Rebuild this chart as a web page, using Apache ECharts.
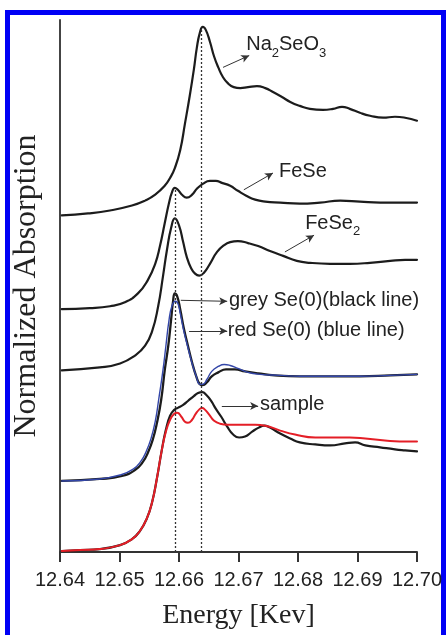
<!DOCTYPE html>
<html><head><meta charset="utf-8">
<script src="https://cdn.jsdelivr.net/npm/echarts@6/dist/echarts.min.js"></script>
<style>html,body{margin:0;padding:0;background:#fff;}#c{width:446px;height:635px;}</style>
</head><body><div id="c"></div>
<script>
// ---- data (energy in keV, normalized absorption with vertical offsets, arbitrary units) ----
const xTickValues = [12.64, 12.65, 12.66, 12.67, 12.68, 12.69, 12.70];

const na2seo3 = [[12.6403,341],[12.6447,343],[12.6484,346],[12.6521,351],[12.6543,356],[12.6560,362],[12.6576,371],[12.6585,379],[12.6593,389],[12.6602,407],[12.6610,434],[12.6618,462],[12.6625,489],[12.6630,511],[12.6635,526],[12.6640,532],[12.6645,529],[12.6652,517],[12.6659,502],[12.6666,491],[12.6674,481],[12.6682,475],[12.6692,471],[12.6703,470],[12.6716,471],[12.6731,472],[12.6745,470],[12.6758,466],[12.6773,461],[12.6787,456],[12.6803,452],[12.6820,449],[12.6842,448],[12.6859,449],[12.6874,451],[12.6887,449],[12.6904,445],[12.6921,442],[12.6943,440],[12.6963,441],[12.6980,440],[12.7000,437]];

const feSe = [[12.6403,246],[12.6450,247],[12.6484,249],[12.6509,253],[12.6531,262],[12.6548,276],[12.6560,292],[12.6568,310],[12.6576,333],[12.6583,353],[12.6588,364],[12.6593,369],[12.6598,367],[12.6605,362],[12.6613,359],[12.6622,362],[12.6630,368],[12.6640,373],[12.6652,376],[12.6662,376],[12.6672,374],[12.6686,371],[12.6699,366],[12.6713,361],[12.6728,357],[12.6745,355],[12.6770,354],[12.6803,353],[12.6837,354],[12.6871,356],[12.6904,355],[12.6938,354],[12.6971,354],[12.7000,354]];

const feSe2 = [[12.6403,184],[12.6467,187],[12.6501,191],[12.6526,199],[12.6543,209],[12.6555,224],[12.6565,249],[12.6573,279],[12.6580,307],[12.6587,329],[12.6593,338],[12.6600,331],[12.6607,314],[12.6613,299],[12.6620,288],[12.6627,282],[12.6634,280],[12.6642,283],[12.6652,292],[12.6664,304],[12.6676,311],[12.6686,314],[12.6699,315],[12.6716,313],[12.6733,310],[12.6753,305],[12.6775,300],[12.6798,295],[12.6820,293],[12.6854,292],[12.6887,292],[12.6921,293],[12.6955,295],[12.6980,296],[12.7000,296]];

const greySe = [[12.6403,72],[12.6467,74],[12.6504,77],[12.6526,83],[12.6539,91],[12.6548,101],[12.6556,114],[12.6563,131],[12.6570,154],[12.6576,184],[12.6582,209],[12.6587,237],[12.6590,254],[12.6593,262],[12.6597,259],[12.6602,246],[12.6608,227],[12.6615,209],[12.6622,192],[12.6629,178],[12.6635,170],[12.6640,169],[12.6647,172],[12.6655,178],[12.6666,182],[12.6679,185],[12.6694,185],[12.6711,183],[12.6733,181],[12.6761,179],[12.6803,178],[12.6854,178],[12.6904,178],[12.6955,179],[12.7000,180]];

const redSe = [[12.6403,72],[12.6467,74],[12.6501,78],[12.6523,84],[12.6536,92],[12.6545,102],[12.6553,115],[12.6560,132],[12.6566,155],[12.6573,184],[12.6578,209],[12.6583,234],[12.6588,249],[12.6594,254],[12.6598,252],[12.6602,242],[12.6608,224],[12.6615,207],[12.6622,191],[12.6629,178],[12.6635,170],[12.6640,170],[12.6647,175],[12.6655,183],[12.6666,188],[12.6676,190],[12.6686,189],[12.6699,186],[12.6716,182],[12.6736,180],[12.6770,179],[12.6803,178],[12.6854,178],[12.6904,178],[12.6955,179],[12.7000,180]];

const sampleBlack = [[12.6403,1],[12.6434,2],[12.6467,3],[12.6501,7],[12.6521,13],[12.6534,21],[12.6546,34],[12.6555,51],[12.6563,75],[12.6571,103],[12.6578,124],[12.6585,138],[12.6592,144],[12.6598,146],[12.6607,149],[12.6615,153],[12.6625,158],[12.6632,161],[12.6639,162],[12.6646,159],[12.6654,153],[12.6662,145],[12.6671,137],[12.6681,127],[12.6691,119],[12.6701,116],[12.6711,117],[12.6723,122],[12.6734,126],[12.6743,128],[12.6753,126],[12.6770,120],[12.6787,115],[12.6803,111],[12.6829,109],[12.6854,108],[12.6879,110],[12.6896,111],[12.6913,108],[12.6938,106],[12.6963,104],[12.6980,103],[12.7000,102]];

const sampleRed = [[12.6403,1],[12.6434,2],[12.6467,3],[12.6501,7],[12.6521,13],[12.6534,21],[12.6546,34],[12.6555,51],[12.6563,75],[12.6571,103],[12.6578,122],[12.6585,134],[12.6592,140],[12.6597,141],[12.6604,137],[12.6610,132],[12.6615,131],[12.6622,134],[12.6628,140],[12.6635,145],[12.6639,146],[12.6644,144],[12.6651,139],[12.6659,133],[12.6669,130],[12.6682,129],[12.6703,129],[12.6728,129],[12.6745,128],[12.6770,123],[12.6795,119],[12.6829,116],[12.6862,116],[12.6887,116],[12.6913,115],[12.6946,113],[12.6971,112],[12.7000,112]];

// reference energies (dotted lines) and how high they reach
const dottedE = [12.6593, 12.6638];
const dottedTop = [367, 529];

// annotations: text, arrow start, arrow end, text anchor (left, middle)
const annText = ['Na|2|SeO|3', 'FeSe', 'FeSe|2', 'grey Se(0)(black line)', 'red Se(0) (blue line)', 'sample'];
const arrowFrom = [[12.6674,491],[12.6709,367],[12.6778,304],[12.6603,255],[12.6617,224],[12.6672,148]];
const arrowTo   = [[12.6718,503],[12.6758,384],[12.6827,321],[12.6681,254],[12.6681,224],[12.6733,148]];
const textAt    = [[12.6713,514],[12.6768,386],[12.6812,333],[12.6684,255],[12.6682,224],[12.6736,149]];

// ---- chart ----
const chart = echarts.init(document.getElementById('c'), null, {renderer: 'canvas'});
const black = '#1c1c1c';
function lineSeries(name, data, color, width, z) {
  return {name, type: 'line', data, showSymbol: false, symbol: 'none', smooth: 0.5,
    lineStyle: {color, width, join: 'round', cap: 'round'}, z, silent: true};
}
const series = [
  lineSeries('Na2SeO3', na2seo3, black, 2.2, 3),
  lineSeries('FeSe', feSe, black, 2.2, 3),
  lineSeries('FeSe2', feSe2, black, 2.2, 3),
  lineSeries('grey Se(0)', greySe, black, 2.3, 3),
  lineSeries('red Se(0)', redSe, '#3346a8', 1.4, 4),
  lineSeries('sample', sampleBlack, black, 2.2, 3),
  lineSeries('sample fit', sampleRed, '#e41e26', 2, 4)
];
series[0].markLine = {
  silent: true, symbol: ['none', 'none'], animation: false,
  lineStyle: {type: [2, 2], color: '#333', width: 1.3}, label: {show: false},
  data: dottedE.map((e, i) => [{coord: [e, 0]}, {coord: [e, dottedTop[i]]}])
};
series[1].markLine = {
  silent: true, symbol: ['none', 'arrow'], symbolSize: [6, 8], animation: false,
  lineStyle: {type: 'solid', color: '#333', width: 1}, label: {show: false},
  data: arrowFrom.map((a, i) => [{coord: a}, {coord: arrowTo[i]}])
};

chart.setOption({
  animation: false,
  backgroundColor: '#fff',
  grid: {left: 60, right: 29, top: 20, bottom: 76, containLabel: false},
  xAxis: {
    type: 'value', min: 12.64, max: 12.70, interval: 0.01,
    name: 'Energy [Kev]', nameLocation: 'middle', nameGap: 50,
    nameTextStyle: {fontFamily: '"Liberation Serif", "Times New Roman", serif', fontSize: 28, color: '#222'},
    axisLine: {show: true, lineStyle: {color: '#333', width: 2}},
    axisTick: {show: true, length: 10, lineStyle: {color: '#333', width: 2}},
    axisLabel: {margin: 18, fontFamily: '"Liberation Sans", Arial, sans-serif', fontSize: 20, color: '#222',
      formatter: v => { const t = xTickValues.find(x => Math.abs(x - v) < 1e-6); return (t !== undefined ? t : v).toFixed(2); }},
    splitLine: {show: false}
  },
  yAxis: {
    type: 'value', min: 0, max: 539,
    name: 'Normalized Absorption', nameLocation: 'middle', nameGap: 17,
    nameTextStyle: {fontFamily: '"Liberation Serif", "Times New Roman", serif', fontSize: 32, color: '#222'},
    axisLine: {show: true, lineStyle: {color: '#444', width: 2}},
    axisTick: {show: false}, axisLabel: {show: false}, splitLine: {show: false}
  },
  series
});

// annotation texts placed from data coordinates
const ctx = document.createElement('canvas').getContext('2d');
const mainFont = '20px "Liberation Sans", Arial, sans-serif';
const subFont = '13px "Liberation Sans", Arial, sans-serif';
const elements = [];
annText.forEach((t, i) => {
  const p = chart.convertToPixel({gridIndex: 0}, textAt[i]);
  let x = p[0];
  t.split('|').forEach((part, k) => {
    const isSub = k % 2 === 1;
    ctx.font = isSub ? subFont : mainFont;
    elements.push({type: 'text', silent: true, x, y: p[1] + (isSub ? 8.5 : 0),
      style: {text: part, font: isSub ? subFont : mainFont, fill: '#222', verticalAlign: 'middle', align: 'left'}});
    x += ctx.measureText(part).width;
  });
});
// blue frame of the figure
elements.push({type: 'rect', silent: true, shape: {x: 7.5, y: 12.5, width: 436, height: 640},
  style: {fill: 'none', stroke: '#0000f5', lineWidth: 5}});
chart.setOption({graphic: elements});
</script></body></html>
